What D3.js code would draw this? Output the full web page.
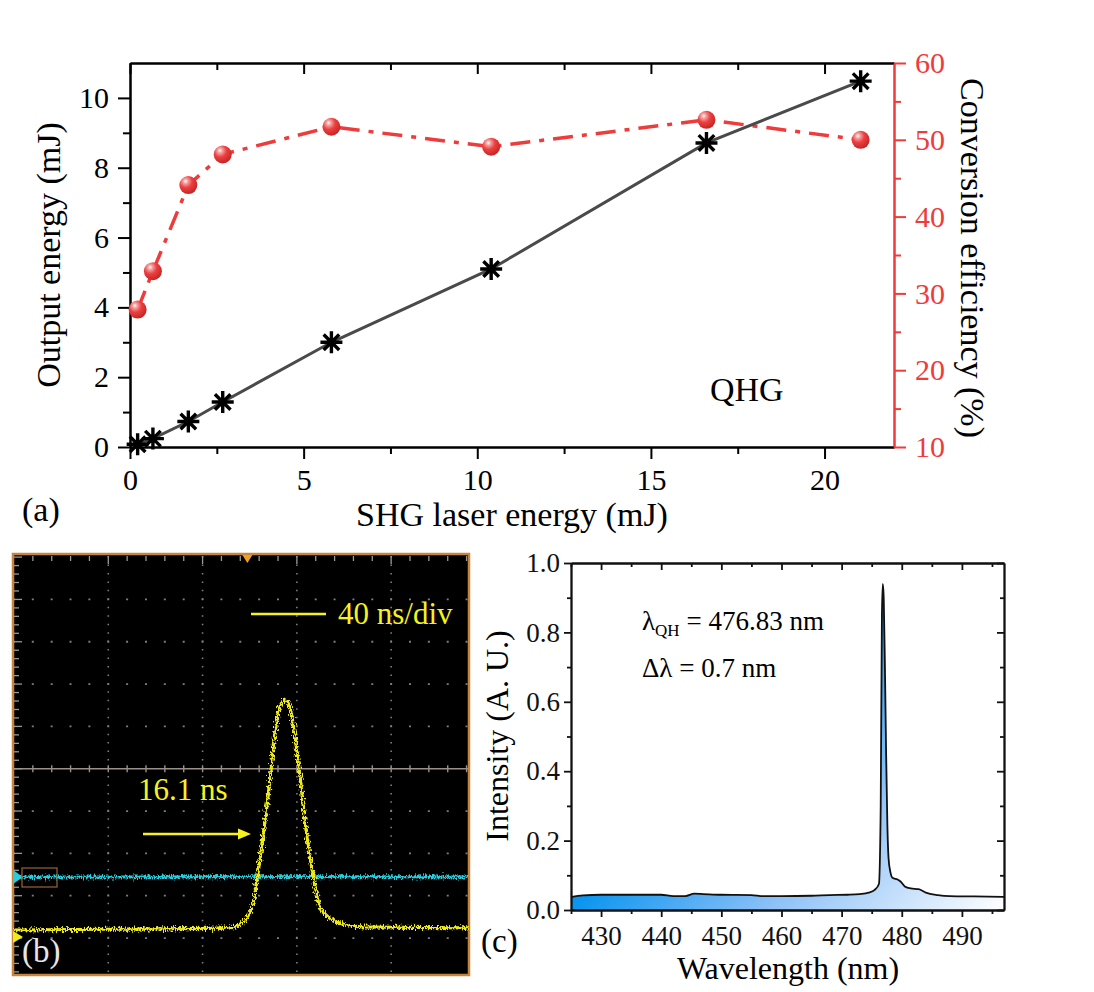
<!DOCTYPE html>
<html><head><meta charset="utf-8">
<script src="https://cdn.jsdelivr.net/npm/d3@7"></script>
<style>
body{margin:0;background:#fff}
</style>
</head><body>
<svg id="chart" width="1094" height="992"></svg>
<script>
// ---------- Panel (a) data ----------
const shgEnergy     = [0.22, 0.66, 1.68, 2.67, 5.8, 10.4, 16.6, 21.04];
const outputEnergy  = [0.08, 0.24, 0.73, 1.29, 3.0, 5.1, 8.71, 10.48];
const conversionEff = [27.9, 32.9, 44.1, 48.1, 51.7, 49.1, 52.6, 50.0];
const aXTicks  = [0, 5, 10, 15, 20];
const aXMinor  = [2.5, 7.5, 12.5, 17.5];
const aYTicks  = [0, 2, 4, 6, 8, 10];
const aYMinor  = [1, 3, 5, 7, 9];
const aY2Ticks = [10, 20, 30, 40, 50, 60];
const aY2Minor = [15, 25, 35, 45, 55];

// ---------- Panel (b) data (time in ns, amplitude in divisions) ----------
const pulseTime = [0, 45, 91.6, 97.1, 101.0, 103.1, 105.6, 108.6, 110.7, 112.8, 115.0, 117.1, 119.2, 121.3, 123.4, 125.6, 127.7, 129.8, 134.0, 141.2, 148.0, 192.6];
const pulseVolt = [-3.81, -3.79, -3.76, -3.62, -3.27, -2.63, -1.61, -0.26, 0.85, 1.46, 1.63, 1.44, 0.75, -0.19, -1.21, -2.08, -2.79, -3.27, -3.53, -3.69, -3.74, -3.76];
const refTime = [0, 60, 120, 192.6];
const refVolt = [-2.56, -2.56, -2.55, -2.56];
const scopeTimeDivs = [40, 80, 120, 160];
const scopeVoltDivs = [-4, -3, -2, -1, 1, 2, 3, 4];
const triggerTime = 99;

// ---------- Panel (c) data ----------
const wavelength = [425, 427, 430, 435, 440, 442, 444, 445.5, 447, 450, 455, 457, 460, 465, 468, 471, 473, 474.5, 475.5, 476.2, 476.5, 476.7, 476.85, 477.0, 477.2, 477.4, 477.6, 477.8, 478.1, 478.5, 479.3, 479.8, 480.5, 481.5, 482.8, 484, 486, 488, 492, 497];
const intensity  = [0.037, 0.042, 0.044, 0.044, 0.044, 0.040, 0.040, 0.047, 0.046, 0.044, 0.043, 0.040, 0.040, 0.041, 0.043, 0.044, 0.046, 0.050, 0.058, 0.075, 0.30, 0.85, 0.94, 0.90, 0.70, 0.45, 0.25, 0.15, 0.11, 0.092, 0.088, 0.082, 0.068, 0.062, 0.060, 0.050, 0.043, 0.040, 0.039, 0.038];
const cXTicks = [430, 440, 450, 460, 470, 480, 490];
const cXMinor = [425, 435, 445, 455, 465, 475, 485, 495];
const cYTicks = [0, 0.2, 0.4, 0.6, 0.8, 1.0];
const cYMinor = [0.1, 0.3, 0.5, 0.7, 0.9];

const FONT = "'Liberation Serif','DejaVu Serif','Noto Serif','FreeSerif','Nimbus Roman','Nimbus Roman No9 L','Times New Roman',Times,serif";
const svg = d3.select("#chart").style("font-family", FONT);
const defs = svg.append("defs");
const RED = "#ee3b3b";

function styleAxis(g, color, width, fontSize) {
  g.attr("font-family", FONT);
  g.selectAll("path").attr("stroke", color).attr("stroke-width", width);
  g.selectAll("line").attr("stroke", color).attr("stroke-width", width);
  g.selectAll("text").attr("fill", color).attr("font-size", fontSize).style("font-family", FONT);
  return g;
}
function txt(g) { return g.append("text").style("font-family", FONT); }

// ================= Panel (a) =================
const xA  = d3.scaleLinear([0, 22], [130, 894]);
const yA  = d3.scaleLinear([0, 11], [447, 63]);
const yA2 = d3.scaleLinear([10, 60], [447, 63]);
const gA = svg.append("g");

styleAxis(gA.append("g").attr("transform", "translate(0,447)")
  .call(d3.axisBottom(xA).tickValues(aXMinor).tickSize(7).tickSizeOuter(0).tickFormat("")), "#000", 2, 0);
styleAxis(gA.append("g").attr("transform", "translate(0,63)")
  .call(d3.axisBottom(xA).tickValues(aXMinor).tickSize(7).tickSizeOuter(0).tickFormat("")), "#000", 2, 0);
styleAxis(gA.append("g").attr("transform", "translate(130,0)")
  .call(d3.axisLeft(yA).tickValues(aYMinor).tickSize(7).tickSizeOuter(0).tickFormat("")), "#000", 2, 0);
styleAxis(gA.append("g").attr("transform", "translate(894,0)")
  .call(d3.axisRight(yA2).tickValues(aY2Minor).tickSize(7).tickSizeOuter(0).tickFormat("")), RED, 2, 0);
styleAxis(gA.append("g").attr("transform", "translate(0,447)")
  .call(d3.axisBottom(xA).tickValues(aXTicks).tickSize(12).tickSizeOuter(0).tickPadding(10).tickFormat(d3.format("d"))), "#000", 2, 30);
styleAxis(gA.append("g").attr("transform", "translate(0,63)")
  .call(d3.axisBottom(xA).tickValues(aXTicks).tickSize(11).tickSizeOuter(0).tickFormat("")), "#000", 2, 0);
styleAxis(gA.append("g").attr("transform", "translate(130,0)")
  .call(d3.axisLeft(yA).tickValues(aYTicks).tickSize(12).tickSizeOuter(0).tickPadding(9).tickFormat(d3.format("d"))), "#000", 2, 30);
styleAxis(gA.append("g").attr("transform", "translate(894,0)")
  .call(d3.axisRight(yA2).tickValues(aY2Ticks).tickSize(12).tickSizeOuter(0).tickPadding(9).tickFormat(d3.format("d"))), RED, 2, 30);

const sg = defs.append("radialGradient").attr("id", "sphere")
  .attr("cx", "38%").attr("cy", "32%").attr("r", "70%").attr("fx", "34%").attr("fy", "28%");
sg.append("stop").attr("offset", "0").attr("stop-color", "#ffffff");
sg.append("stop").attr("offset", "0.18").attr("stop-color", "#f6a3a3");
sg.append("stop").attr("offset", "0.5").attr("stop-color", "#ec4040");
sg.append("stop").attr("offset", "1").attr("stop-color", "#c42424");

const idxA = d3.range(shgEnergy.length);
gA.append("path")
  .attr("d", d3.line().x(i => xA(shgEnergy[i])).y(i => yA2(conversionEff[i]))(idxA))
  .attr("fill", "none").attr("stroke", RED).attr("stroke-width", 3.5)
  .attr("stroke-dasharray", "20,9,5,9");
gA.append("path")
  .attr("d", d3.line().x(i => xA(shgEnergy[i])).y(i => yA(outputEnergy[i]))(idxA))
  .attr("fill", "none").attr("stroke", "#4a4a4a").attr("stroke-width", 3);
gA.selectAll(".sph").data(idxA).join("circle").attr("class", "sph")
  .attr("cx", i => xA(shgEnergy[i])).attr("cy", i => yA2(conversionEff[i]))
  .attr("r", 9).attr("fill", "url(#sphere)");
const starR = 11;
const starPath = (() => {
  let s = "";
  for (let k = 0; k < 4; k++) {
    const a = k * Math.PI / 4;
    const dx = starR * Math.cos(a), dy = starR * Math.sin(a);
    s += `M${(-dx).toFixed(2)},${(-dy).toFixed(2)}L${dx.toFixed(2)},${dy.toFixed(2)}`;
  }
  return s;
})();
gA.selectAll(".star").data(idxA).join("path").attr("class", "star")
  .attr("transform", i => `translate(${xA(shgEnergy[i])},${yA(outputEnergy[i])})`)
  .attr("d", starPath).attr("stroke", "#000").attr("stroke-width", 3.4).attr("fill", "none");

txt(gA).attr("x", 512).attr("y", 526).attr("text-anchor", "middle").attr("font-size", 34).text("SHG laser energy (mJ)");
txt(gA).attr("transform", "translate(60,255) rotate(-90)").attr("text-anchor", "middle").attr("font-size", 34).text("Output energy (mJ)");
txt(gA).attr("transform", "translate(961,258) rotate(90)").attr("text-anchor", "middle").attr("font-size", 34).text("Conversion efficiency (%)");
txt(gA).attr("x", 710).attr("y", 401).attr("font-size", 34).text("QHG");
txt(gA).attr("x", 22).attr("y", 521).attr("font-size", 34).text("(a)");

// ================= Panel (b) =================
const xB = d3.scaleLinear([0, 192.6], [14, 468]);
const yB = d3.scaleLinear([-4.85, 5.05], [974, 555]);
const gB = svg.append("g");
gB.append("rect").attr("x", 13).attr("y", 554).attr("width", 456).attr("height", 421)
  .attr("fill", "#000").attr("stroke", "#c8843a").attr("stroke-width", 2.5);

const minorT = d3.range(8, 192.6, 8);
const minorV = d3.range(-4.8, 5.01, 0.2).map(v => +v.toFixed(2));
gB.selectAll(".gv").data(scopeTimeDivs).join("line").attr("class", "gv")
  .attr("x1", d => xB(d)).attr("x2", d => xB(d)).attr("y1", 556).attr("y2", 973)
  .attr("stroke", "#7e7e7e").attr("stroke-width", 1.6).attr("stroke-dasharray", "1.5 6.96");
gB.selectAll(".gh").data(scopeVoltDivs).join("line").attr("class", "gh")
  .attr("x1", 14).attr("x2", 468).attr("y1", d => yB(d)).attr("y2", d => yB(d))
  .attr("stroke", "#7e7e7e").attr("stroke-width", 1.8).attr("stroke-dasharray", "2 16.86")
  .attr("stroke-dashoffset", -17.8);
gB.append("line").attr("x1", 14).attr("x2", 468).attr("y1", yB(0)).attr("y2", yB(0))
  .attr("stroke", "#9a9088").attr("stroke-width", 1.6);
gB.selectAll(".ct").data(minorT).join("line").attr("class", "ct")
  .attr("x1", d => xB(d)).attr("x2", d => xB(d))
  .attr("y1", yB(0) - 3.5).attr("y2", yB(0) + 3.5).attr("stroke", "#9a9088").attr("stroke-width", 1.4);
gB.selectAll(".tt").data(minorT).join("line").attr("class", "tt")
  .attr("x1", d => xB(d)).attr("x2", d => xB(d)).attr("y1", 556).attr("y2", d => (d % 40 === 0 ? 564 : 561))
  .attr("stroke", "#9a9a9a").attr("stroke-width", 1.3);
gB.selectAll(".lt").data(minorV).join("line").attr("class", "lt")
  .attr("y1", d => yB(d)).attr("y2", d => yB(d)).attr("x1", 14)
  .attr("x2", d => (Math.abs(d - Math.round(d)) < 0.01 ? 22 : 19))
  .attr("stroke", "#9a9a9a").attr("stroke-width", 1.3);

const flt = defs.append("filter").attr("id", "jit").attr("filterUnits", "userSpaceOnUse")
  .attr("x", 0).attr("y", 540).attr("width", 490).attr("height", 450);
flt.append("feTurbulence").attr("type", "fractalNoise").attr("baseFrequency", "0.9 0.35")
  .attr("numOctaves", 2).attr("seed", 5).attr("result", "n");
flt.append("feDisplacementMap").attr("in", "SourceGraphic").attr("in2", "n")
  .attr("scale", 8).attr("xChannelSelector", "R").attr("yChannelSelector", "G");

const lineB = d3.line().curve(d3.curveMonotoneX);
gB.append("path")
  .attr("d", lineB(refTime.map((t, i) => [xB(t), yB(refVolt[i])])))
  .attr("fill", "none").attr("stroke", "#27cddc").attr("stroke-width", 3).attr("filter", "url(#jit)");
gB.append("path")
  .attr("d", lineB(pulseTime.map((t, i) => [xB(t), yB(pulseVolt[i])])))
  .attr("fill", "none").attr("stroke", "#eeea1c").attr("stroke-width", 3.2).attr("filter", "url(#jit)");

gB.append("path").attr("d", `M13,${yB(refVolt[0]) - 7}L23,${yB(refVolt[0])}L13,${yB(refVolt[0]) + 7}Z`).attr("fill", "#27cddc");
gB.append("path").attr("d", `M13,${yB(pulseVolt[0]) + 1}L23,${yB(pulseVolt[0]) + 7}L13,${yB(pulseVolt[0]) + 13}Z`).attr("fill", "#eeea1c");
gB.append("path").attr("d", `M${xB(triggerTime) - 5},555L${xB(triggerTime) + 5},555L${xB(triggerTime)},563Z`).attr("fill", "#f0a020");
gB.append("rect").attr("x", 22).attr("y", 868).attr("width", 35).attr("height", 19)
  .attr("fill", "none").attr("stroke", "#9a6432").attr("stroke-width", 1.2);

const YEL = "#f6f21e";
gB.append("line").attr("x1", 251).attr("x2", 326).attr("y1", 614).attr("y2", 614).attr("stroke", YEL).attr("stroke-width", 2.5);
txt(gB).attr("x", 338).attr("y", 624).attr("font-size", 31).attr("fill", YEL).text("40 ns/div");
txt(gB).attr("x", 138).attr("y", 800).attr("font-size", 31).attr("fill", YEL).text("16.1 ns");
gB.append("line").attr("x1", 143).attr("x2", 240).attr("y1", 834).attr("y2", 834).attr("stroke", YEL).attr("stroke-width", 2.5);
gB.append("path").attr("d", "M251,834L238,828.5L238,839.5Z").attr("fill", YEL);
txt(gB).attr("x", 22).attr("y", 962).attr("font-size", 33).attr("fill", "#e6e6e6").text("(b)");

// ================= Panel (c) =================
const xC = d3.scaleLinear([425, 497], [571, 1004]);
const yC = d3.scaleLinear([0, 1], [910, 563]);
const gC = svg.append("g");

const x1g = xC(425), y1g = yC(0);
const Wc = xC(497) - xC(425), Hc = yC(0) - yC(1);
const ddx = 1 / Wc, ddy = 0.75 / Hc, nn = ddx * ddx + ddy * ddy;
const lg = defs.append("linearGradient").attr("id", "spec").attr("gradientUnits", "userSpaceOnUse")
  .attr("x1", x1g).attr("y1", y1g).attr("x2", x1g + ddx / nn).attr("y2", y1g + ddy / nn);
lg.append("stop").attr("offset", "0").attr("stop-color", "#0a95f0");
lg.append("stop").attr("offset", "0.45").attr("stop-color", "#8cc0f7");
lg.append("stop").attr("offset", "1").attr("stop-color", "#ffffff");

const idxC = d3.range(wavelength.length);
gC.append("path")
  .attr("d", d3.area().x(i => xC(wavelength[i])).y0(yC(0)).y1(i => yC(intensity[i])).curve(d3.curveMonotoneX)(idxC))
  .attr("fill", "url(#spec)");
gC.append("path")
  .attr("d", d3.line().x(i => xC(wavelength[i])).y(i => yC(intensity[i])).curve(d3.curveMonotoneX)(idxC))
  .attr("fill", "none").attr("stroke", "#111").attr("stroke-width", 1.8);

styleAxis(gC.append("g").attr("transform", "translate(0,910)")
  .call(d3.axisBottom(xC).tickValues(cXMinor).tickSize(4).tickSizeOuter(0).tickFormat("")), "#111", 1.8, 0);
styleAxis(gC.append("g").attr("transform", "translate(0,563)")
  .call(d3.axisBottom(xC).tickValues(cXMinor).tickSize(4).tickSizeOuter(0).tickFormat("")), "#111", 1.8, 0);
styleAxis(gC.append("g").attr("transform", "translate(571,0)")
  .call(d3.axisLeft(yC).tickValues(cYMinor).tickSize(4).tickSizeOuter(0).tickFormat("")), "#111", 1.8, 0);
styleAxis(gC.append("g").attr("transform", "translate(1004,0)")
  .call(d3.axisLeft(yC).tickValues(cYMinor).tickSize(4).tickSizeOuter(0).tickFormat("")), "#111", 1.8, 0);
styleAxis(gC.append("g").attr("transform", "translate(0,910)")
  .call(d3.axisBottom(xC).tickValues(cXTicks).tickSize(7).tickSizeOuter(0).tickPadding(9).tickFormat(d3.format("d"))), "#111", 1.8, 27);
styleAxis(gC.append("g").attr("transform", "translate(0,563)")
  .call(d3.axisBottom(xC).tickValues(cXTicks).tickSize(7).tickSizeOuter(0).tickFormat("")), "#111", 1.8, 0);
styleAxis(gC.append("g").attr("transform", "translate(571,0)")
  .call(d3.axisLeft(yC).tickValues(cYTicks).tickSize(7).tickSizeOuter(0).tickPadding(4).tickFormat(d3.format(".1f"))), "#111", 1.8, 27);
styleAxis(gC.append("g").attr("transform", "translate(1004,0)")
  .call(d3.axisLeft(yC).tickValues(cYTicks).tickSize(7).tickSizeOuter(0).tickFormat("")), "#111", 1.8, 0);

txt(gC).attr("x", 788).attr("y", 979).attr("text-anchor", "middle").attr("font-size", 32).text("Wavelength (nm)");
txt(gC).attr("transform", "translate(508,736) rotate(-90)").attr("text-anchor", "middle").attr("font-size", 32).text("Intensity (A. U.)");
txt(gC).attr("x", 481).attr("y", 952).attr("font-size", 33).text("(c)");
const ann = txt(gC).attr("x", 642).attr("y", 630).attr("font-size", 27);
ann.append("tspan").text("λ");
ann.append("tspan").attr("font-size", 17).attr("dy", 6).text("QH");
ann.append("tspan").attr("dy", -6).text(" = 476.83 nm");
txt(gC).attr("x", 642).attr("y", 677).attr("font-size", 27).text("Δλ = 0.7 nm");
</script>
</body></html>
